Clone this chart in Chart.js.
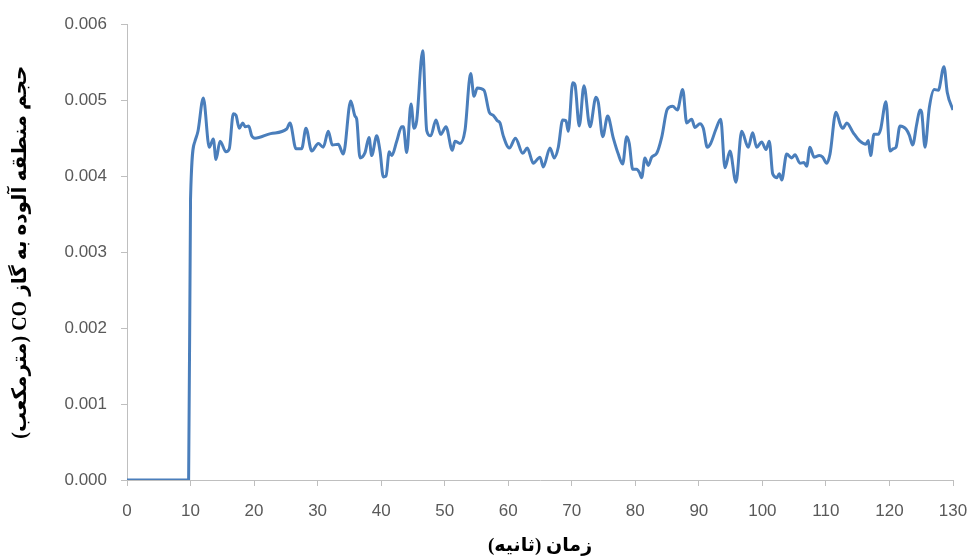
<!DOCTYPE html>
<html>
<head>
<meta charset="utf-8">
<script src="https://cdn.jsdelivr.net/npm/chart.js@4/dist/chart.umd.min.js"></script>
<style>
  html, body { margin: 0; padding: 0; background: #fff; }
  #wrap { width: 976px; height: 559px; }
</style>
</head>
<body>
<div id="wrap"><canvas id="co-chart" width="976" height="559"></canvas></div>
<script>
// time in seconds
var seconds = [
    0, 9.7, 10.0, 10.7, 11.17, 12.01, 12.95, 13.58, 14.01, 14.64, 15.58, 16.1, 16.73, 17.15, 17.67,
    18.21, 18.62, 19.15, 19.63, 20.14, 22.6, 25.13, 25.65, 26.6, 27.49, 28.17, 29.07, 30.11, 30.89,
    31.68, 32.31, 33.25, 34.04, 35.21, 35.88, 36.15, 36.67, 37.46, 38.09, 38.51, 39.3, 39.82, 40.34,
    40.76, 41.28, 41.66, 42.45, 43.23, 43.49, 44.02, 44.7, 45.17, 45.59, 46.54, 47.17, 47.8, 48.63,
    49.37, 50.2, 51.2, 51.62, 52.41, 53.19, 54.09, 54.61, 55.13, 56.19, 57.02, 57.65, 58.28, 58.7,
    59.22, 60.17, 61.14, 62.28, 63.0, 63.94, 65.0, 65.52, 66.57, 67.25, 67.88, 68.57, 69.09, 69.45,
    70.15, 70.51, 71.18, 71.92, 72.87, 73.81, 74.18, 74.87, 75.65, 76.54, 77.32, 78.01, 78.64, 79.05,
    79.59, 80.22, 80.63, 81.0, 81.52, 82.04, 82.58, 83.37, 84.15, 85.03, 85.88, 86.61, 87.46, 88.09,
    88.87, 89.39, 90.18, 90.7, 91.33, 91.86, 92.7, 93.44, 94.11, 94.9, 95.84, 96.74, 97.78, 98.47,
    99.1, 99.89, 100.57, 101.09, 101.62, 102.25, 102.66, 103.04, 103.82, 104.61, 105.13, 105.92,
    106.55, 106.97, 107.49, 108.12, 108.95, 109.49, 110.12, 110.64, 111.58, 112.3, 112.69, 113.27,
    114.31, 115.36, 116.3, 116.67, 117.04, 117.56, 118.24, 118.62, 119.45, 120.08, 120.61, 121.03,
    121.66, 122.6, 123.12, 123.65, 124.28, 124.8, 125.07, 125.59, 126.27, 127.05, 127.68, 128.58,
    129.1, 130.0
];

// contaminated volume (m3)
var coVolume = [
    0, 0, 0.0037, 0.00446, 0.00459, 0.00503, 0.00438, 0.00449, 0.00422, 0.00446, 0.00432, 0.00436, 0.00482, 0.0048, 0.00463,
    0.0047, 0.00465, 0.00466, 0.00453, 0.0045, 0.00456, 0.00462, 0.0047, 0.00436, 0.00436, 0.00463, 0.00433, 0.00443, 0.00438,
    0.00459, 0.00441, 0.00442, 0.00429, 0.00499, 0.00479, 0.00475, 0.00424, 0.00431, 0.00451, 0.00427, 0.00453, 0.00433, 0.00399,
    0.004, 0.00432, 0.00427, 0.00446, 0.00465, 0.00465, 0.00431, 0.00495, 0.00463, 0.00473, 0.00565, 0.0046, 0.00453, 0.00474,
    0.00455, 0.00465, 0.00434, 0.00446, 0.00443, 0.0046, 0.00535, 0.00505, 0.00516, 0.00513, 0.00484, 0.0048, 0.00473, 0.0047,
    0.00453, 0.00437, 0.0045, 0.0043, 0.00437, 0.00417, 0.00425, 0.00412, 0.00437, 0.00424, 0.00438, 0.00474, 0.00473, 0.00459,
    0.00523, 0.0052, 0.00466, 0.00519, 0.00465, 0.00504, 0.00497, 0.00452, 0.00479, 0.0045, 0.00429, 0.00416, 0.00452, 0.00443,
    0.00409, 0.00409, 0.00405, 0.00398, 0.00424, 0.00414, 0.00425, 0.0043, 0.00451, 0.00488, 0.00492, 0.00487, 0.00514, 0.0047,
    0.00475, 0.00464, 0.00469, 0.00463, 0.00438, 0.00443, 0.00462, 0.00475, 0.00411, 0.00433, 0.00392, 0.00459, 0.00438, 0.00457,
    0.00438, 0.00445, 0.00435, 0.00446, 0.00403, 0.00398, 0.00403, 0.00395, 0.00429, 0.00424, 0.00428, 0.00417,
    0.00418, 0.00413, 0.00438, 0.00425, 0.00427, 0.00425, 0.00417, 0.00429, 0.00484, 0.00467, 0.00463, 0.0047,
    0.00457, 0.00446, 0.00442, 0.00447, 0.00427, 0.00455, 0.00455, 0.00462, 0.00498, 0.00433, 0.00436, 0.00438,
    0.00466, 0.00462, 0.00454, 0.00441, 0.00468, 0.00487, 0.00484, 0.00438, 0.0049, 0.00514, 0.00513, 0.00544,
    0.0051, 0.00487
];

var xTitle = 'زمان (ثانیه)';
var yTitle = 'حجم منطقه آلوده به گاز CO (مترمکعب)';

var points = [];
for (var i = 0; i < seconds.length; i++) {
    points.push({ x: seconds[i], y: coVolume[i] });
}

// wrap in an RTL embedding so the Persian titles lay out right to left
function rtl(s) {
    return '\u202B' + s + '\u202C';
}

var axisGray = '#bfbfbf';
var labelGray = '#595959';

var ctx = document.getElementById('co-chart').getContext('2d');
new Chart(ctx, {
    type: 'line',
    data: {
        datasets: [{
            data: points,
            borderColor: '#4a7ebb',
            borderWidth: 3,
            pointRadius: 0,
            fill: false,
            cubicInterpolationMode: 'monotone'
        }]
    },
    options: {
        responsive: false,
        animation: false,
        layout: { padding: { left: 0, right: 23, top: 23, bottom: 0 } },
        plugins: { legend: { display: false }, tooltip: { enabled: false } },
        scales: {
            x: {
                type: 'linear',
                min: 0,
                max: 130,
                afterFit: function (scale) {
                    scale.height = 79;
                    // the outer padding already leaves room for the last label
                    scale.paddingRight = 0;
                    scale.paddingLeft = 0;
                },
                border: { display: true, color: axisGray, width: 1 },
                grid: { display: true, drawOnChartArea: false, drawTicks: true, tickLength: 6, color: axisGray },
                ticks: {
                    stepSize: 10,
                    padding: 15,
                    color: labelGray,
                    font: { family: 'Liberation Sans', size: 17 },
                    maxRotation: 0
                },
                title: {
                    display: true,
                    text: rtl(xTitle),
                    color: '#000',
                    padding: { top: 6, bottom: 2 },
                    font: { family: "'Liberation Serif', 'DejaVu Sans'", size: 19, weight: 'bold' }
                }
            },
            y: {
                min: 0,
                max: 0.006,
                afterFit: function (scale) { scale.width = 127; },
                border: { display: true, color: axisGray, width: 1 },
                grid: { display: true, drawOnChartArea: false, drawTicks: true, tickLength: 6, color: axisGray },
                ticks: {
                    stepSize: 0.001,
                    padding: 14,
                    color: labelGray,
                    font: { family: 'Liberation Sans', size: 17 },
                    callback: function (v) { return v.toFixed(3); }
                },
                title: {
                    display: true,
                    text: rtl(yTitle),
                    color: '#000',
                    padding: { top: 9, bottom: 0 },
                    font: { family: "'Liberation Serif', 'DejaVu Sans'", size: 20, weight: 'bold' }
                }
            }
        }
    }
});
</script>
</body>
</html>
